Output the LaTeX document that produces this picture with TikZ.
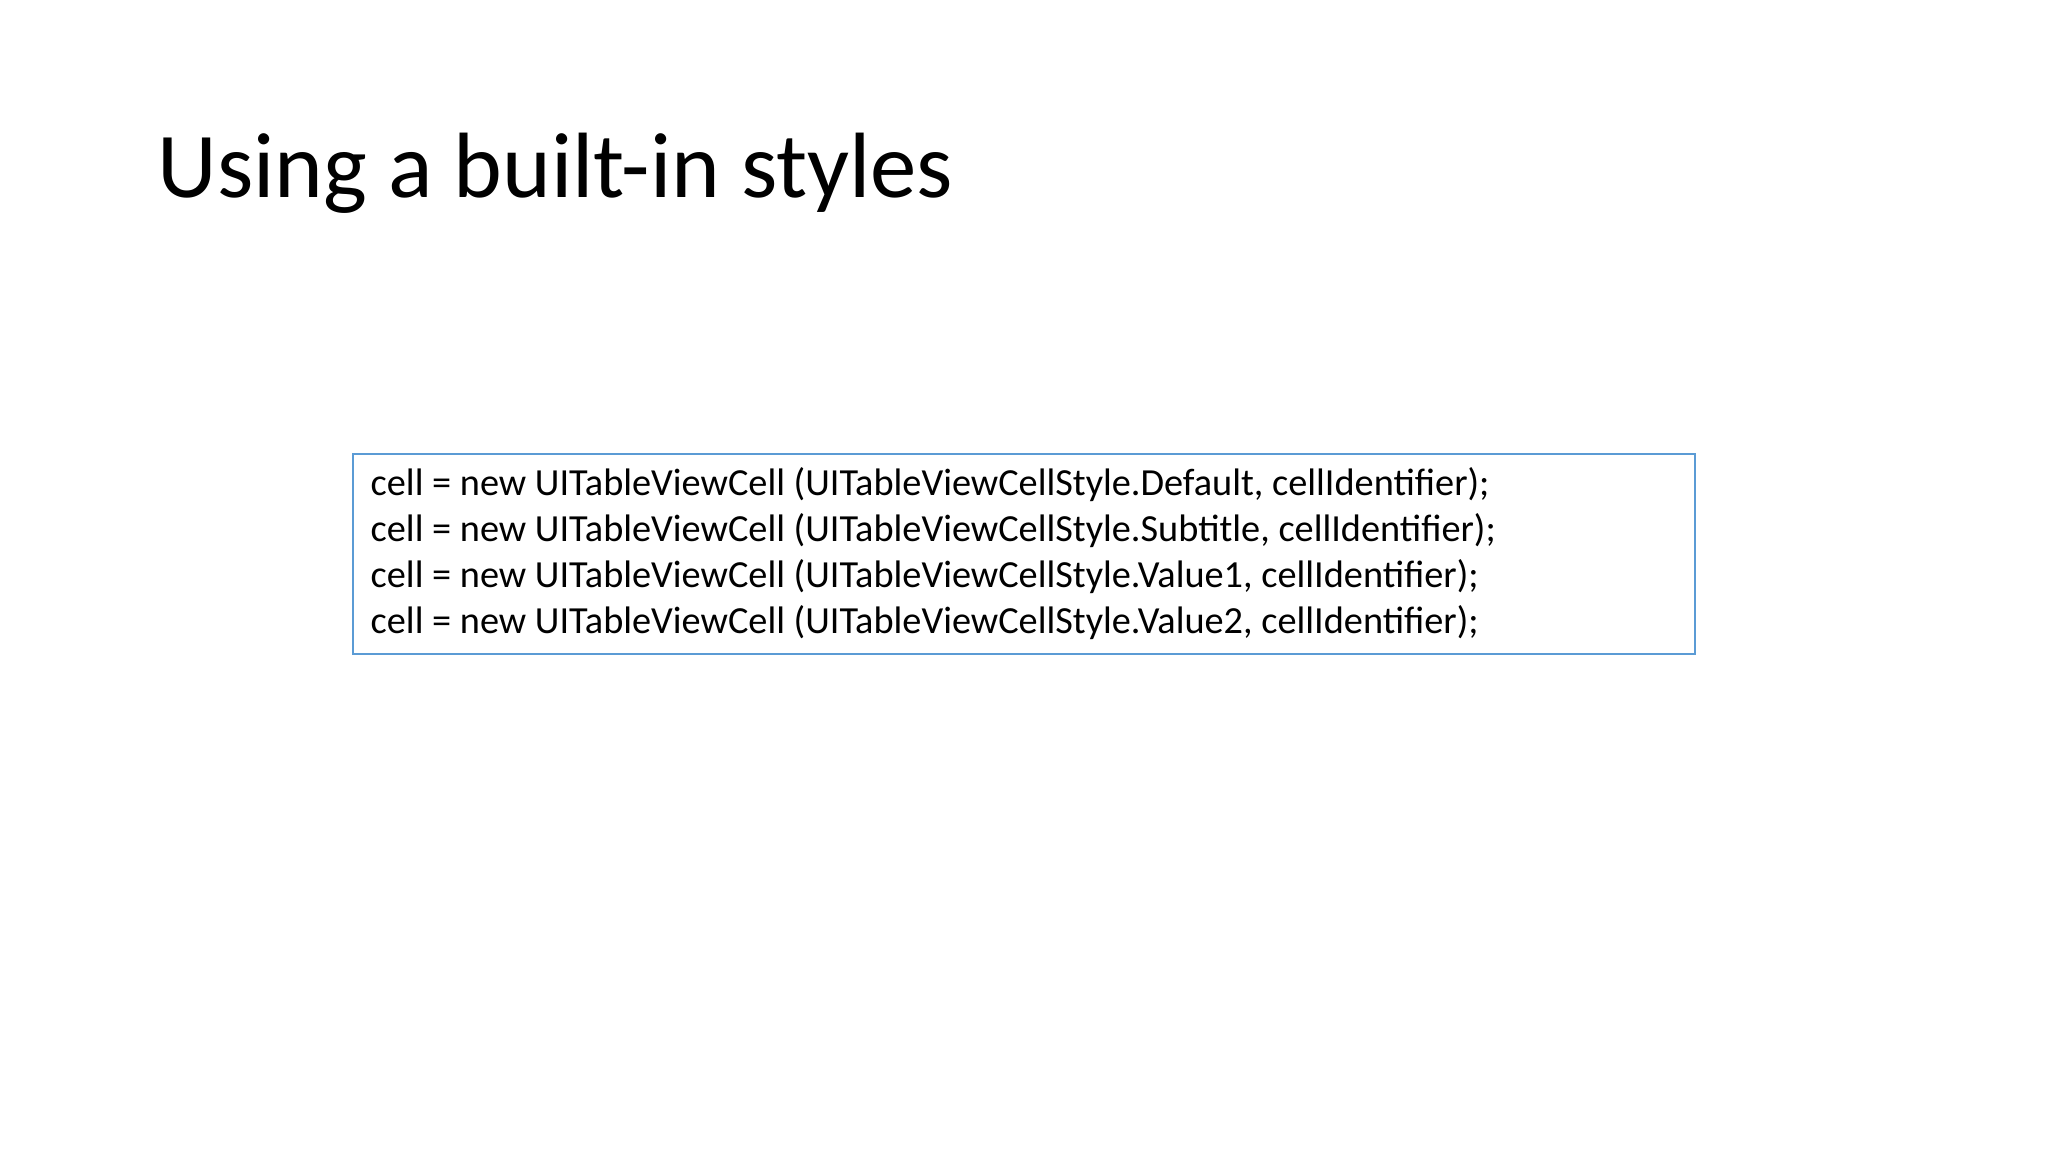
\documentclass[tikz,border=0pt]{standalone}
\usepackage{fontspec}
\setmainfont{Carlito}
\usetikzlibrary{positioning}
\definecolor{boxblue}{RGB}{91,155,213}
\tikzset{codeline/.style={anchor=base west, inner sep=0pt, font=\fontsize{10.9}{13}\selectfont}}
\begin{document}
\begin{tikzpicture}
\useasboundingbox (0,0) rectangle (20.48,11.52);
\node[anchor=base west, inner sep=0pt, font=\fontsize{26.4}{32}\selectfont] (title) at (1.57,9.54) {Using a built-in styles};
\draw[boxblue, line width=0.8pt] (3.53,6.98) rectangle (16.95,4.98);
\node[codeline] (l1) at (3.70,6.56) {cell = new UITableViewCell (UITableViewCellStyle.Default, cellIdentifier);};
\node[codeline] (l2) at (3.70,6.103) {cell = new UITableViewCell (UITableViewCellStyle.Subtitle, cellIdentifier);};
\node[codeline] (l3) at (3.70,5.646) {cell = new UITableViewCell (UITableViewCellStyle.Value1, cellIdentifier);};
\node[codeline] (l4) at (3.70,5.189) {cell = new UITableViewCell (UITableViewCellStyle.Value2, cellIdentifier);};
\end{tikzpicture}
\end{document}
